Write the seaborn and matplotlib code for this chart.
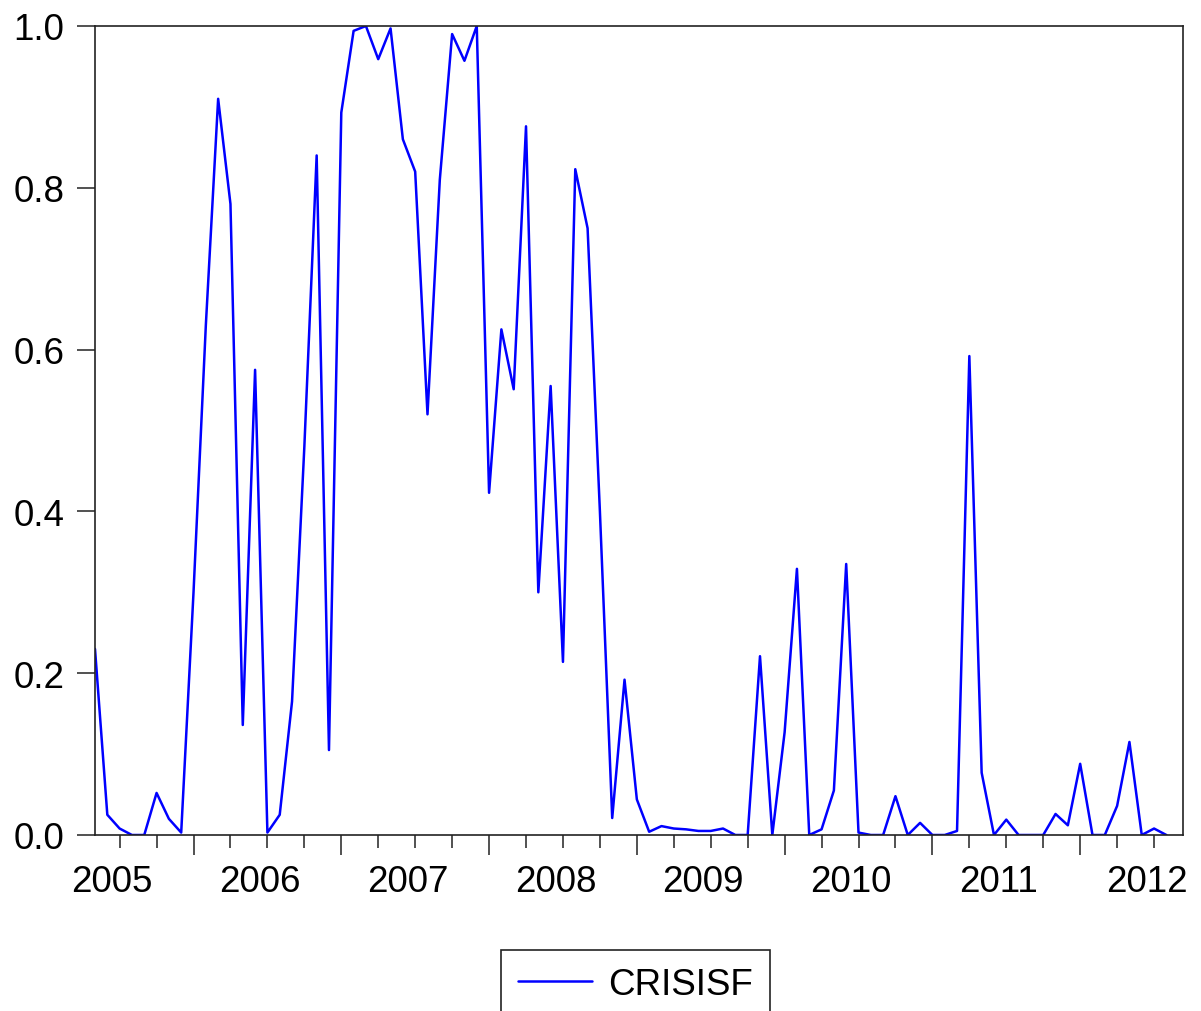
import matplotlib
matplotlib.use("Agg")
import matplotlib.pyplot as plt
import matplotlib.transforms as mtransforms
from matplotlib.ticker import FixedLocator, NullFormatter
import numpy as np
import pandas as pd
import seaborn as sns

# ---- data (monthly observations, index 0 = first month shown) ----
crisisf = [0.23, 0.025, 0.008, 0.0, 0.0, 0.052, 0.02, 0.003, 0.30, 0.63,
           0.91, 0.78, 0.136, 0.575, 0.003, 0.025, 0.165, 0.48, 0.84, 0.105,
           0.893, 0.994, 1.0, 0.959, 0.997, 0.86, 0.82, 0.52, 0.81, 0.99,
           0.957, 1.0, 0.423, 0.625, 0.551, 0.876, 0.30, 0.555, 0.214, 0.823,
           0.75, 0.40, 0.021, 0.192, 0.044, 0.004, 0.011, 0.008, 0.007, 0.005,
           0.005, 0.008, 0.0, 0.0, 0.221, 0.0, 0.127, 0.329, 0.0, 0.007,
           0.055, 0.335, 0.003, 0.0, 0.0, 0.048, 0.0, 0.015, 0.0, 0.0,
           0.005, 0.592, 0.077, 0.0, 0.019, 0.0, 0.0, 0.0, 0.026, 0.012,
           0.088, 0.0, 0.0, 0.036, 0.115, 0.0, 0.008, 0.0]
months = list(range(len(crisisf)))
year_labels = ["2005", "2006", "2007", "2008", "2009", "2010", "2011", "2012"]
y_ticks = [0.0, 0.2, 0.4, 0.6, 0.8, 1.0]
series_name = "CRISISF"

df = pd.DataFrame({"month": months, series_name: crisisf})

sns.set_style("white")
plt.rcParams["font.family"] = ["Liberation Sans", "DejaVu Sans"]
plt.rcParams["text.color"] = "black"
plt.rcParams["xtick.color"] = "#222222"
plt.rcParams["ytick.color"] = "#222222"

W, H = 1201, 1012
FS = 26.5
fig = plt.figure(figsize=(W / 100, H / 100), dpi=100)
ax = fig.add_axes([95 / W, 1 - 836 / H, (1183 - 95) / W, (836 - 27) / H])

sns.lineplot(data=df, x="month", y=series_name, ax=ax, color="#0000FF",
             linewidth=1.8, label=series_name)
handles, labels = ax.get_legend_handles_labels()
if ax.get_legend() is not None:
    ax.get_legend().remove()

ax.set_xlim(0, 88.35)
ax.set_ylim(0, 1.0)
ax.set_xlabel("")
ax.set_ylabel("")

# y axis
ax.set_yticks(y_ticks)
ax.set_yticklabels([f"{v:.1f}" for v in y_ticks])
ax.tick_params(axis="y", direction="out", length=13, width=1.1, pad=9,
               labelsize=FS, labelcolor="black", left=True)

# x axis: long ticks at year boundaries, short ticks each quarter
year_starts = [8 + 12 * k for k in range(len(year_labels) - 1)]
quarters = [q for q in range(2, 88, 3) if q not in year_starts]
ax.xaxis.set_major_locator(FixedLocator(year_starts))
ax.xaxis.set_minor_locator(FixedLocator(quarters))
ax.xaxis.set_major_formatter(NullFormatter())
ax.xaxis.set_minor_formatter(NullFormatter())
ax.tick_params(axis="x", which="major", direction="out", length=14.5,
               width=1.1, bottom=True)
ax.tick_params(axis="x", which="minor", direction="out", length=9.5,
               width=1.1, bottom=True)

trans = mtransforms.blended_transform_factory(ax.transData, ax.transAxes)
for k, lab in enumerate(year_labels):
    ax.text(1.4 + 12 * k, -29 / 809, lab, transform=trans, ha="center",
            va="top", fontsize=FS, color="black")

for s in ax.spines.values():
    s.set_visible(True)
    s.set_color("#222222")
    s.set_linewidth(1.2)

ax.grid(False)

leg = fig.legend(handles, labels, loc="upper center",
                 bbox_to_anchor=(635.5 / W, 1 - 951 / H),
                 fontsize=FS, frameon=True, fancybox=False,
                 edgecolor="#222222", framealpha=1, handlelength=2.0,
                 handletextpad=0.45, borderpad=0.45, borderaxespad=0)
leg.get_frame().set_linewidth(1.2)
for t in leg.get_texts():
    t.set_color("black")

fig.savefig("out.png", dpi=100)
